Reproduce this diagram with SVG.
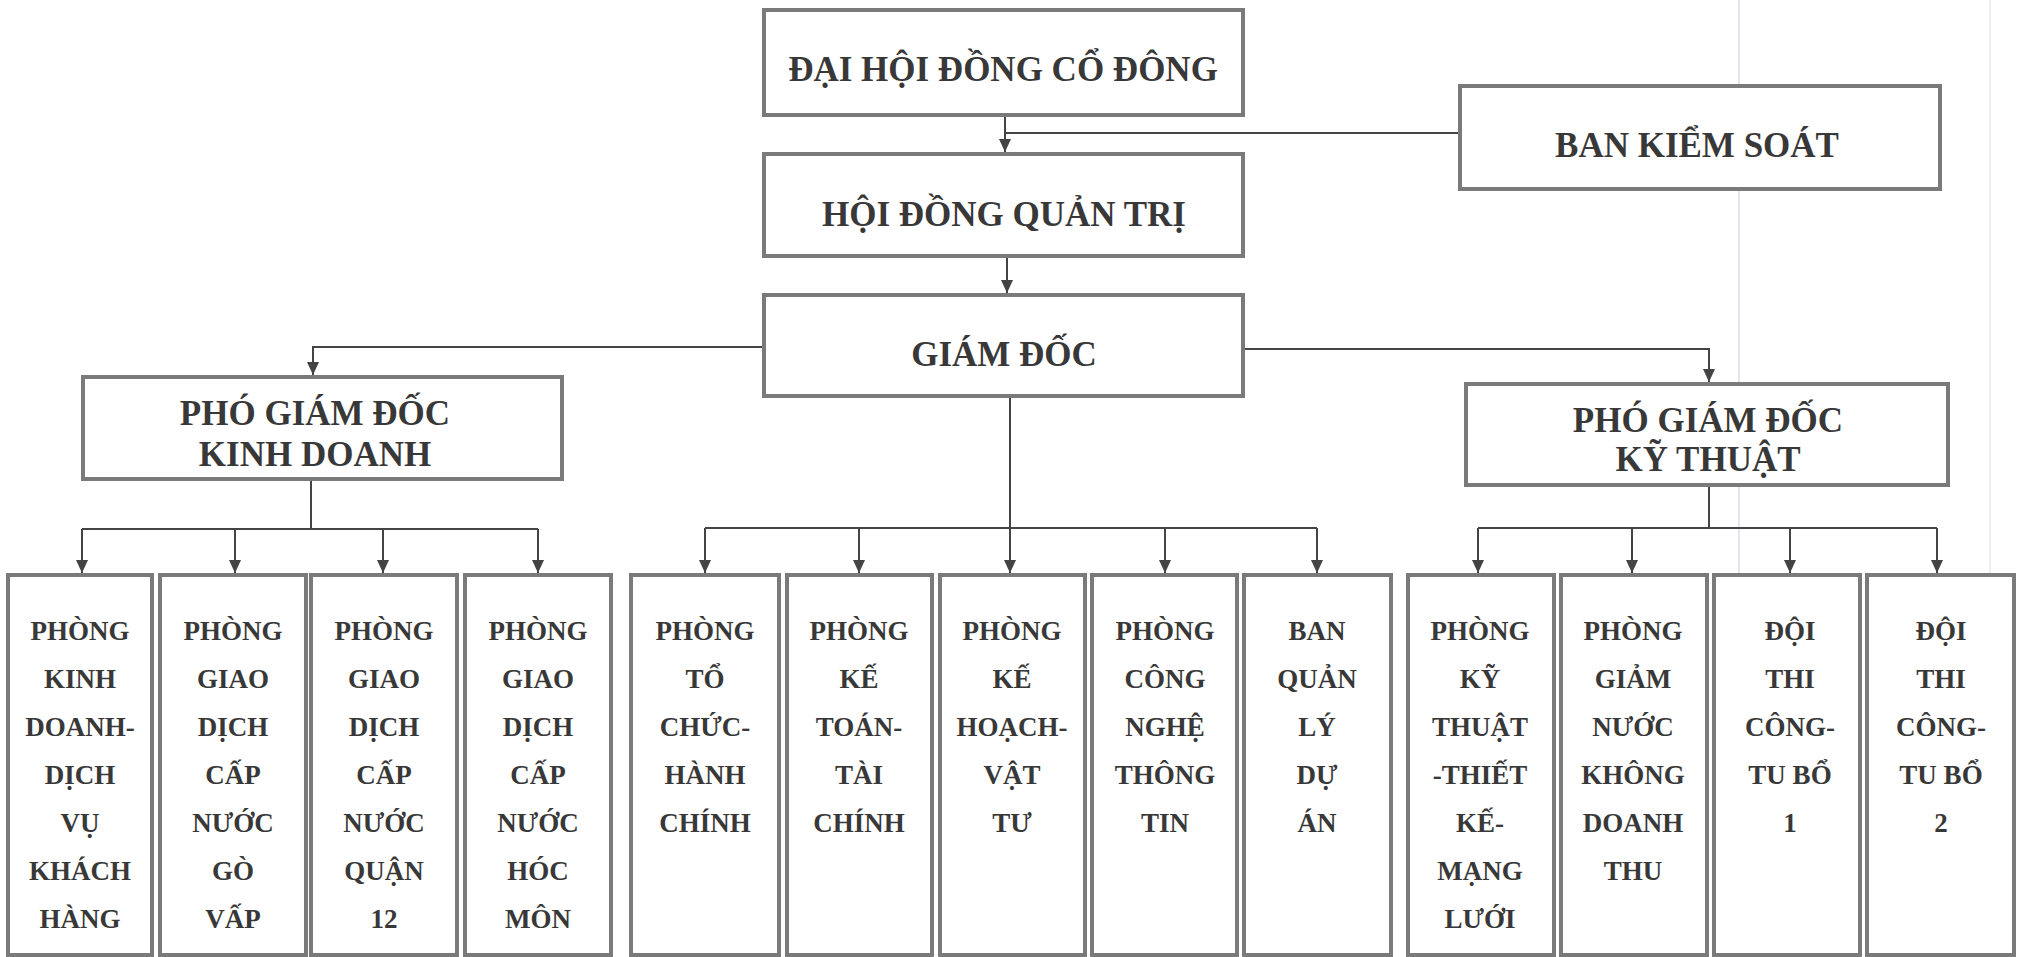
<svg xmlns="http://www.w3.org/2000/svg" width="2018" height="957" viewBox="0 0 2018 957">
<style>
.box{fill:#ffffff;stroke:#7a7a7a;stroke-width:4}
.t{font-family:"Liberation Serif","Times New Roman",serif;font-weight:bold;fill:#383838;text-anchor:middle}
.big{font-size:35px}
.sm{font-size:27px}
.c{fill:none;stroke:#444444;stroke-width:2}
.scan{stroke:#e2e5f2;stroke-width:2}
</style>
<defs>
<marker id="arr" markerUnits="userSpaceOnUse" markerWidth="14" markerHeight="12" refX="13" refY="6" orient="auto">
<path d="M0,0 L13,6 L0,12 Z" fill="#444444"/>
</marker>
</defs>
<rect width="2018" height="957" fill="#ffffff"/>
<line class="scan" x1="1739" y1="0" x2="1739" y2="957"/>
<line x1="1990" y1="0" x2="1990" y2="957" stroke="#eeeeee" stroke-width="2"/>

<g id="connectors">
<path class="c" d="M1005,115 V152" marker-end="url(#arr)"/>
<path class="c" d="M1005,133 H1460"/>
<path class="c" d="M1007,256 V293" marker-end="url(#arr)"/>
<path class="c" d="M764,347 H313 V375" marker-end="url(#arr)"/>
<path class="c" d="M1243,349 H1709 V382" marker-end="url(#arr)"/>
<path class="c" d="M1010,396 V573" marker-end="url(#arr)"/>
<path class="c" d="M705,528 H1317"/>
<path class="c" d="M705,528 V573" marker-end="url(#arr)"/>
<path class="c" d="M859,528 V573" marker-end="url(#arr)"/>
<path class="c" d="M1165,528 V573" marker-end="url(#arr)"/>
<path class="c" d="M1317,528 V573" marker-end="url(#arr)"/>
<path class="c" d="M311,479 V529"/>
<path class="c" d="M82,529 H538"/>
<path class="c" d="M82,529 V573" marker-end="url(#arr)"/>
<path class="c" d="M235,529 V573" marker-end="url(#arr)"/>
<path class="c" d="M383,529 V573" marker-end="url(#arr)"/>
<path class="c" d="M538,529 V573" marker-end="url(#arr)"/>
<path class="c" d="M1709,485 V528"/>
<path class="c" d="M1478,528 H1937"/>
<path class="c" d="M1478,528 V573" marker-end="url(#arr)"/>
<path class="c" d="M1632,528 V573" marker-end="url(#arr)"/>
<path class="c" d="M1790,528 V573" marker-end="url(#arr)"/>
<path class="c" d="M1937,528 V573" marker-end="url(#arr)"/>
</g>

<g id="dai-hoi-dong-co-dong">
<rect class="box" x="764" y="10" width="479" height="105"/>
<text class="t big" x="1003" y="81">ĐẠI HỘI ĐỒNG CỔ ĐÔNG</text>
</g>
<g id="ban-kiem-soat">
<rect class="box" x="1460" y="86" width="480" height="103"/>
<text class="t big" x="1697" y="157">BAN KIỂM SOÁT</text>
</g>
<g id="hoi-dong-quan-tri">
<rect class="box" x="764" y="154" width="479" height="102"/>
<text class="t big" x="1004" y="226">HỘI ĐỒNG QUẢN TRỊ</text>
</g>
<g id="giam-doc">
<rect class="box" x="764" y="295" width="479" height="101"/>
<text class="t big" x="1004" y="366">GIÁM ĐỐC</text>
</g>
<g id="pgd-kinh-doanh">
<rect class="box" x="83" y="377" width="479" height="102"/>
<text class="t big" x="315" y="425">PHÓ GIÁM ĐỐC</text>
<text class="t big" x="315" y="466">KINH DOANH</text>
</g>
<g id="pgd-ky-thuat">
<rect class="box" x="1466" y="384" width="482" height="101"/>
<text class="t big" x="1708" y="432">PHÓ GIÁM ĐỐC</text>
<text class="t big" x="1708" y="471">KỸ THUẬT</text>
</g>

<g id="p-kinh-doanh-dich-vu">
<rect class="box" x="8" y="575" width="144" height="380"/>
<text class="t sm" x="80"><tspan x="80" y="640">PHÒNG</tspan><tspan x="80" y="688">KINH</tspan><tspan x="80" y="736">DOANH-</tspan><tspan x="80" y="784">DỊCH</tspan><tspan x="80" y="832">VỤ</tspan><tspan x="80" y="880">KHÁCH</tspan><tspan x="80" y="928">HÀNG</tspan></text>
</g>
<g id="p-gd-go-vap">
<rect class="box" x="160" y="575" width="146" height="380"/>
<text class="t sm" x="233"><tspan x="233" y="640">PHÒNG</tspan><tspan x="233" y="688">GIAO</tspan><tspan x="233" y="736">DỊCH</tspan><tspan x="233" y="784">CẤP</tspan><tspan x="233" y="832">NƯỚC</tspan><tspan x="233" y="880">GÒ</tspan><tspan x="233" y="928">VẤP</tspan></text>
</g>
<g id="p-gd-quan-12">
<rect class="box" x="311" y="575" width="146" height="380"/>
<text class="t sm" x="384"><tspan x="384" y="640">PHÒNG</tspan><tspan x="384" y="688">GIAO</tspan><tspan x="384" y="736">DỊCH</tspan><tspan x="384" y="784">CẤP</tspan><tspan x="384" y="832">NƯỚC</tspan><tspan x="384" y="880">QUẬN</tspan><tspan x="384" y="928">12</tspan></text>
</g>
<g id="p-gd-hoc-mon">
<rect class="box" x="465" y="575" width="146" height="380"/>
<text class="t sm" x="538"><tspan x="538" y="640">PHÒNG</tspan><tspan x="538" y="688">GIAO</tspan><tspan x="538" y="736">DỊCH</tspan><tspan x="538" y="784">CẤP</tspan><tspan x="538" y="832">NƯỚC</tspan><tspan x="538" y="880">HÓC</tspan><tspan x="538" y="928">MÔN</tspan></text>
</g>
<g id="p-to-chuc-hanh-chinh">
<rect class="box" x="631" y="575" width="148" height="380"/>
<text class="t sm" x="705"><tspan x="705" y="640">PHÒNG</tspan><tspan x="705" y="688">TỔ</tspan><tspan x="705" y="736">CHỨC-</tspan><tspan x="705" y="784">HÀNH</tspan><tspan x="705" y="832">CHÍNH</tspan></text>
</g>
<g id="p-ke-toan-tai-chinh">
<rect class="box" x="787" y="575" width="145" height="380"/>
<text class="t sm" x="859"><tspan x="859" y="640">PHÒNG</tspan><tspan x="859" y="688">KẾ</tspan><tspan x="859" y="736">TOÁN-</tspan><tspan x="859" y="784">TÀI</tspan><tspan x="859" y="832">CHÍNH</tspan></text>
</g>
<g id="p-ke-hoach-vat-tu">
<rect class="box" x="940" y="575" width="145" height="380"/>
<text class="t sm" x="1012"><tspan x="1012" y="640">PHÒNG</tspan><tspan x="1012" y="688">KẾ</tspan><tspan x="1012" y="736">HOẠCH-</tspan><tspan x="1012" y="784">VẬT</tspan><tspan x="1012" y="832">TƯ</tspan></text>
</g>
<g id="p-cong-nghe-thong-tin">
<rect class="box" x="1092" y="575" width="145" height="380"/>
<text class="t sm" x="1165"><tspan x="1165" y="640">PHÒNG</tspan><tspan x="1165" y="688">CÔNG</tspan><tspan x="1165" y="736">NGHỆ</tspan><tspan x="1165" y="784">THÔNG</tspan><tspan x="1165" y="832">TIN</tspan></text>
</g>
<g id="ban-quan-ly-du-an">
<rect class="box" x="1244" y="575" width="147" height="380"/>
<text class="t sm" x="1317"><tspan x="1317" y="640">BAN</tspan><tspan x="1317" y="688">QUẢN</tspan><tspan x="1317" y="736">LÝ</tspan><tspan x="1317" y="784">DỰ</tspan><tspan x="1317" y="832">ÁN</tspan></text>
</g>
<g id="p-ky-thuat-thiet-ke">
<rect class="box" x="1408" y="575" width="146" height="380"/>
<text class="t sm" x="1480"><tspan x="1480" y="640">PHÒNG</tspan><tspan x="1480" y="688">KỸ</tspan><tspan x="1480" y="736">THUẬT</tspan><tspan x="1480" y="784">-THIẾT</tspan><tspan x="1480" y="832">KẾ-</tspan><tspan x="1480" y="880">MẠNG</tspan><tspan x="1480" y="928">LƯỚI</tspan></text>
</g>
<g id="p-giam-nuoc-khong-doanh-thu">
<rect class="box" x="1561" y="575" width="146" height="380"/>
<text class="t sm" x="1633"><tspan x="1633" y="640">PHÒNG</tspan><tspan x="1633" y="688">GIẢM</tspan><tspan x="1633" y="736">NƯỚC</tspan><tspan x="1633" y="784">KHÔNG</tspan><tspan x="1633" y="832">DOANH</tspan><tspan x="1633" y="880">THU</tspan></text>
</g>
<g id="doi-thi-cong-1">
<rect class="box" x="1714" y="575" width="146" height="380"/>
<text class="t sm" x="1790"><tspan x="1790" y="640">ĐỘI</tspan><tspan x="1790" y="688">THI</tspan><tspan x="1790" y="736">CÔNG-</tspan><tspan x="1790" y="784">TU BỔ</tspan><tspan x="1790" y="832">1</tspan></text>
</g>
<g id="doi-thi-cong-2">
<rect class="box" x="1867" y="575" width="147" height="380"/>
<text class="t sm" x="1941"><tspan x="1941" y="640">ĐỘI</tspan><tspan x="1941" y="688">THI</tspan><tspan x="1941" y="736">CÔNG-</tspan><tspan x="1941" y="784">TU BỔ</tspan><tspan x="1941" y="832">2</tspan></text>
</g>
</svg>
